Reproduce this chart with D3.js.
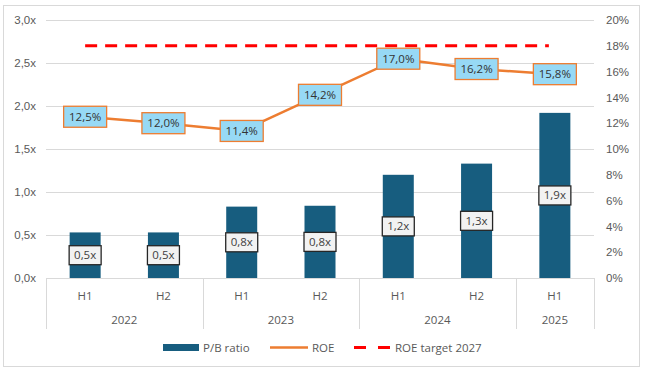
<!DOCTYPE html>
<html><head><meta charset="utf-8">
<script src="https://cdn.jsdelivr.net/npm/d3@7"></script>
<style>body{margin:0;background:#fff}svg{display:block;font-family:"Open Sans","Liberation Sans",sans-serif}</style>
</head><body>
<svg id="c" width="646" height="374"></svg>
<script>
const halves = ["H1","H2","H1","H2","H1","H2","H1"];
const years = ["2022","2022","2023","2023","2024","2024","2025"];
const pbRatio = [0.53, 0.53, 0.83, 0.84, 1.20, 1.33, 1.92];
const roe = [12.5, 12.0, 11.4, 14.2, 17.0, 16.2, 15.8];
const roeTarget = 18;
const leftTicks = [0, 0.5, 1.0, 1.5, 2.0, 2.5, 3.0];
const rightTicks = [0,2,4,6,8,10,12,14,16,18,20];
const legendLabels = ["P/B ratio","ROE","ROE target 2027"];

const svg = d3.select("#c");
const L = 46, R = 594, T = 20, B = 278;
const FS = 11.5;
const idx = d3.range(halves.length);
const x = d3.scaleBand().domain(idx).range([L, R]).paddingInner(0).paddingOuter(0);
const yL = d3.scaleLinear().domain([0, 3]).range([B, T]);
const yR = d3.scaleLinear().domain([0, 20]).range([B, T]);
const comma = (v, d) => d3.format("." + d + "f")(v).replace(".", ",");
const grid = "#d9d9d9", txt = "#595959";

// border
svg.append("rect").attr("x",3.5).attr("y",5.5).attr("width",636).attr("height",361)
  .attr("fill","none").attr("stroke",grid);

// gridlines
svg.append("g").selectAll("line").data(leftTicks.slice(1)).join("line")
  .attr("x1",L).attr("x2",R).attr("y1",d=>yL(d)+0.5).attr("y2",d=>yL(d)+0.5)
  .attr("stroke",grid);

// left axis
const ga = svg.append("g").attr("transform",`translate(${L-10},0)`)
  .call(d3.axisLeft(yL).tickValues(leftTicks).tickSize(0).tickFormat(d=>comma(d,1)+"x"));
ga.select(".domain").remove();
ga.selectAll("text").attr("fill",txt).attr("font-size",FS).attr("x",0);

// right axis
const gr = svg.append("g").attr("transform",`translate(${R+12},0)`)
  .call(d3.axisRight(yR).tickValues(rightTicks).tickSize(0).tickFormat(d=>d+"%"));
gr.select(".domain").remove();
gr.selectAll("text").attr("fill",txt).attr("font-size",FS).attr("x",0);

// category axis
svg.append("line").attr("x1",L).attr("x2",R).attr("y1",B+0.5).attr("y2",B+0.5).attr("stroke",grid);
const bounds = [L];
idx.forEach(i => { if (i === idx.length-1 || years[i] !== years[i+1]) bounds.push(x(i)+x.bandwidth()); });
svg.append("g").selectAll("line").data(bounds).join("line")
  .attr("x1",d=>Math.round(d)+0.5).attr("x2",d=>Math.round(d)+0.5).attr("y1",B).attr("y2",329)
  .attr("stroke",grid);
svg.append("g").selectAll("text").data(idx).join("text")
  .attr("x",i=>x(i)+x.bandwidth()/2).attr("y",300).attr("text-anchor","middle")
  .attr("font-size",FS).attr("fill",txt).text(i=>halves[i]);
const yearGroups = d3.groups(idx, i=>years[i]);
svg.append("g").selectAll("text").data(yearGroups).join("text")
  .attr("x",d=>(x(d[1][0]) + x(d[1][d[1].length-1]) + x.bandwidth())/2).attr("y",324)
  .attr("text-anchor","middle").attr("font-size",FS).attr("fill",txt).text(d=>d[0]);

// bars
const bw = 31;
const barColor = "#175d7f";
svg.append("g").selectAll("rect").data(idx).join("rect")
  .attr("x",i=>x(i)+x.bandwidth()/2-bw/2).attr("width",bw)
  .attr("y",i=>yL(pbRatio[i])).attr("height",i=>B-yL(pbRatio[i]))
  .attr("fill",barColor);

// target line
const cx = i => x(i)+x.bandwidth()/2;
svg.append("line").attr("x1",cx(0)).attr("x2",cx(idx.length-1)-6)
  .attr("y1",yR(roeTarget)).attr("y2",yR(roeTarget))
  .attr("stroke","#ff0000").attr("stroke-width",3).attr("stroke-dasharray","12,8");

// ROE line
svg.append("path").datum(idx)
  .attr("d", d3.line().x(i=>cx(i)).y(i=>yR(roe[i])))
  .attr("fill","none").attr("stroke","#ed7d31").attr("stroke-width",2.5);

// bar labels
const bl = svg.append("g").selectAll("g").data(idx).join("g")
  .attr("transform",i=>`translate(${cx(i)},${(yL(pbRatio[i])+B)/2})`);
bl.append("rect").attr("x",-16).attr("y",-9.5).attr("width",32).attr("height",19)
  .attr("fill","#f2f2f2").attr("stroke","#262626").attr("stroke-width",1.3);
bl.append("text").attr("text-anchor","middle").attr("dy","0.35em").attr("font-size",FS)
  .attr("fill","#404040").text(i=>comma(pbRatio[i],1)+"x");

// ROE labels
const rl = svg.append("g").selectAll("g").data(idx).join("g")
  .attr("transform",i=>`translate(${cx(i)},${yR(roe[i])})`);
rl.append("rect").attr("x",-21.5).attr("y",-10.5).attr("width",43).attr("height",21)
  .attr("fill","#97d9f5").attr("stroke","#ed7d31").attr("stroke-width",1.3);
rl.append("text").attr("text-anchor","middle").attr("dy","0.35em").attr("font-size",FS)
  .attr("fill","#333").text(i=>comma(roe[i],1)+"%");

// legend
const lg = svg.append("g").attr("font-size",FS).attr("fill",txt);
lg.append("rect").attr("x",163).attr("y",344).attr("width",36).attr("height",7).attr("fill",barColor);
lg.append("text").attr("x",203).attr("y",347.5).attr("dy","0.35em").attr("fill",txt).text(legendLabels[0]);
lg.append("line").attr("x1",270).attr("x2",308).attr("y1",347.5).attr("y2",347.5).attr("stroke","#ed7d31").attr("stroke-width",2.5);
lg.append("text").attr("x",312).attr("y",347.5).attr("dy","0.35em").attr("fill",txt).text(legendLabels[1]);
lg.append("line").attr("x1",354).attr("x2",390).attr("y1",347.5).attr("y2",347.5).attr("stroke","#ff0000").attr("stroke-width",3).attr("stroke-dasharray","12,12");
lg.append("text").attr("x",395).attr("y",347.5).attr("dy","0.35em").attr("fill",txt).text(legendLabels[2]);
</script>
</body></html>
